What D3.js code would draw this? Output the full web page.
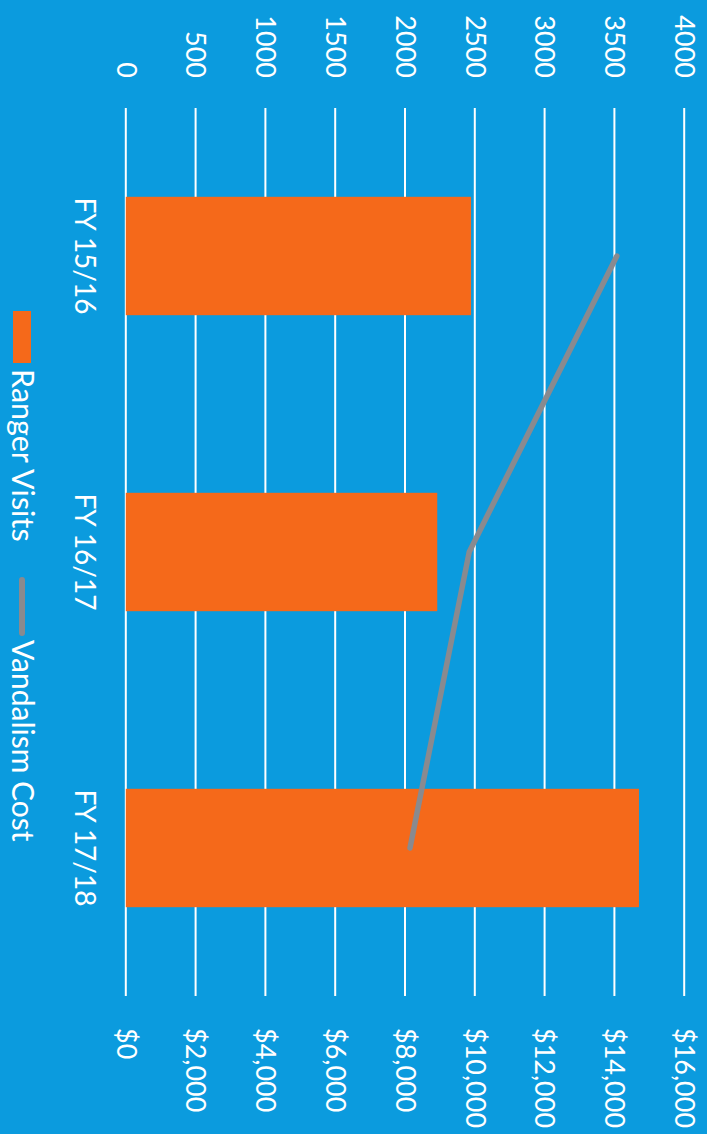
<!DOCTYPE html>
<html><head><meta charset="utf-8">
<script src="https://cdn.jsdelivr.net/npm/d3@7"></script>
<style>
html,body{margin:0;padding:0;background:#0B9BDE;}
svg{display:block;}
text{font-family:Lato,"Open Sans",sans-serif;fill:#fff;}
</style></head>
<body>
<script>
const categories = ["FY 15/16", "FY 16/17", "FY 17/18"];
const rangerVisits = [2473, 2231, 3676];
const vandalismCost = [14070, 9840, 8143];
const leftTicks = [0, 500, 1000, 1500, 2000, 2500, 3000, 3500, 4000];
const rightTicks = [0, 2000, 4000, 6000, 8000, 10000, 12000, 14000, 16000];
const seriesNames = ["Ranger Visits", "Vandalism Cost"];

const PW = 707, PH = 1134;
const svg = d3.select("body").append("svg").attr("width", PW).attr("height", PH);
svg.append("rect").attr("width", PW).attr("height", PH).attr("fill", "#0B9BDE");
// chart drawn in landscape coords, then rotated 90deg clockwise
const g = svg.append("g").attr("transform", `translate(${PW},0) rotate(90)`);

const x = d3.scaleBand().domain(categories).range([108, 996]).paddingInner(0.6).paddingOuter(0.3);
const yL = d3.scaleLinear().domain([0, 4000]).range([581.2, 22.8]);
const yR = d3.scaleLinear().domain([0, 16000]).range([581.2, 22.8]);

// gridlines
g.append("g").selectAll("line").data(leftTicks).join("line")
  .attr("x1", 108).attr("x2", 996)
  .attr("y1", d => yL(d)).attr("y2", d => yL(d))
  .attr("stroke", "#fff").attr("stroke-width", 2);

// left axis
const ax1 = g.append("g").attr("transform", "translate(108,0)")
  .call(d3.axisLeft(yL).tickValues(leftTicks).tickSize(0).tickPadding(30).tickFormat(d3.format("d")));
ax1.select(".domain").remove();
ax1.selectAll("text").style("font-size", "27px").style("font-family", "Lato").attr("fill", "#fff");

// right axis
const ax2 = g.append("g").attr("transform", "translate(996,0)")
  .call(d3.axisRight(yR).tickValues(rightTicks).tickSize(0).tickPadding(32).tickFormat(d3.format("$,")));
ax2.select(".domain").remove();
ax2.selectAll("text").style("font-size", "27px").style("font-family", "Lato").attr("fill", "#fff");

// bars
g.append("g").selectAll("rect").data(categories).join("rect")
  .attr("x", d => x(d)).attr("width", x.bandwidth())
  .attr("y", (d, i) => yL(rangerVisits[i]))
  .attr("height", (d, i) => yL(0) - yL(rangerVisits[i]))
  .attr("fill", "#F5691A");

// line
const line = d3.line().x((d, i) => x(categories[i]) + x.bandwidth() / 2).y(d => yR(d));
g.append("path").datum(vandalismCost).attr("d", line)
  .attr("fill", "none").attr("stroke", "#898A8F").attr("stroke-width", 5.5)
  .attr("stroke-linecap", "round").attr("stroke-linejoin", "round");

// category axis
const ax3 = g.append("g").attr("transform", "translate(0,581.2)")
  .call(d3.axisBottom(x).tickSize(0));
ax3.select(".domain").remove();
ax3.selectAll("text").attr("dy", null).attr("y", 51).style("font-size", "28px").style("font-family", "Lato").attr("fill", "#fff");

// legend
const lg = g.append("g");
lg.append("rect").attr("x", 311).attr("y", 676).attr("width", 52).attr("height", 18).attr("fill", "#F5691A");
lg.append("text").attr("x", 369).attr("y", 695).style("font-size", "30.5px").text(seriesNames[0]);
lg.append("line").attr("x1", 580).attr("x2", 633).attr("y1", 685).attr("y2", 685)
  .attr("stroke", "#898A8F").attr("stroke-width", 6).attr("stroke-linecap", "round");
lg.append("text").attr("x", 640).attr("y", 695).style("font-size", "30px").text(seriesNames[1]);
</script>
</body></html>
